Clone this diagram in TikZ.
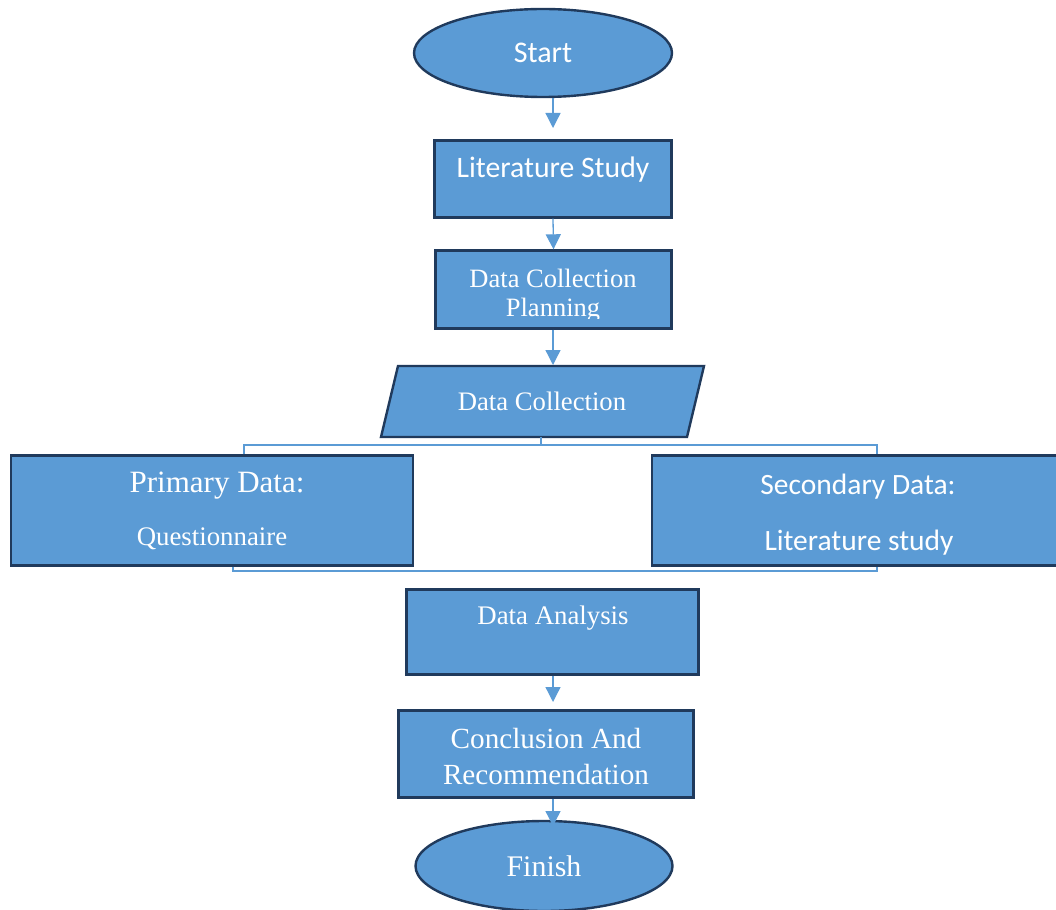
\documentclass[tikz,border=0pt]{standalone}
\usepackage{fontspec}
\setmainfont{Liberation Serif}
\newfontfamily\calfont{Carlito}
\usetikzlibrary{arrows.meta,shapes.geometric}
\definecolor{boxfill}{HTML}{5B9BD5}
\definecolor{boxedge}{HTML}{203A5C}
\definecolor{linkc}{HTML}{5B9BD5}
\tikzset{
  blk/.style={draw=boxedge,fill=boxfill,line width=2.4pt,inner sep=0pt},
  rbox/.style={blk,rectangle},
  ebox/.style={blk,ellipse},
  txt/.style={text=white,inner sep=0pt,align=center},
  arr/.style={draw=linkc,line width=1.3pt,-{Triangle[length=15pt,width=15pt]}},
  link/.style={draw=linkc,line width=1.2pt},
}
\begin{document}
\begin{tikzpicture}[x=1pt,y=-1pt]
\useasboundingbox (0,0) rectangle (1056,909);
\clip (0,0) rectangle (1056,909);
% start
\node[ebox,minimum width=258pt,minimum height=88pt] (start) at (543,53) {};
\node[txt,font=\calfont\fontsize{30}{34}\selectfont] (tstart) at (543,53) {Start};
% literature study
\node[rbox,minimum width=237pt,minimum height=77pt] (lit) at (553,179) {};
\node[txt,font=\calfont\fontsize{29.7}{34}\selectfont] (tlit) at (553,170) {Literature Study};
% planning
\node[rbox,minimum width=236pt,minimum height=78pt] (plan) at (553.5,289.5) {};
\coordinate (pc) at (0,318);
\begin{scope}
\clip (plan.north west) rectangle (plan.east |- pc);
\node[txt,font=\fontsize{26.5}{29}\selectfont] (tplan) at (553,296) {Data Collection\\Planning};
\end{scope}
% data collection parallelogram
\coordinate (p1) at (381,437);
\coordinate (p2) at (687,437);
\coordinate (p3) at (704,366);
\coordinate (p4) at (398,366);
\draw[blk] (p1) -- (p2) -- (p3) -- (p4) -- cycle;
\node[inner sep=0pt,minimum width=306pt,minimum height=71pt] (dc) at (542.5,401.5) {};
\node[txt,font=\fontsize{26.7}{30}\selectfont] (tdc) at (542,401) {Data Collection};
% primary / secondary
\node[rbox,minimum width=402pt,minimum height=110pt] (prim) at (212,510.5) {};
\node[txt,font=\fontsize{31}{34}\selectfont] (tprim1) at (217,486) {Primary Data:};
\node[txt,font=\fontsize{26.8}{30}\selectfont] (tprim2) at (212,539) {Questionnaire};
\node[rbox,minimum width=410pt,minimum height=110pt] (sec) at (857,510.5) {};
\node[txt,font=\calfont\fontsize{29.5}{34}\selectfont] (tsec1) at (858,487) {Secondary Data:};
\node[txt,font=\calfont\fontsize{29.5}{34}\selectfont] (tsec2) at (859,543) {Literature study};
% analysis
\node[rbox,minimum width=292pt,minimum height=85pt] (ana) at (552.5,632) {};
\node[txt,font=\fontsize{26.8}{30}\selectfont] (tana) at (553,618) {Data Analysis};
% conclusion
\node[rbox,minimum width=295pt,minimum height=87pt] (con) at (546,754) {};
\node[txt,font=\fontsize{29.2}{36}\selectfont] (tcon) at (546,757) {Conclusion And\\Recommendation};
% finish
\node[ebox,minimum width=257pt,minimum height=90pt] (fin) at (544,866) {};
\node[txt,font=\fontsize{29.9}{33}\selectfont] (tfin) at (544,866) {Finish};
% arrows
\coordinate (e1) at (553,128);
\coordinate (e3) at (553,365);
\coordinate (e4) at (553,702);
\coordinate (e5) at (553,826);
\draw[arr] (start.south -| e1) -- (e1);
\draw[arr] (lit.south) -- (plan.north);
\draw[arr] (plan.south -| e3) -- (e3);
\draw[arr] (ana.south -| e4) -- (e4);
\draw[arr] (con.south -| e5) -- (e5);
% split bracket
\coordinate (s0) at (541,437);
\coordinate (s1) at (541,445);
\coordinate (sl) at (244,445);
\coordinate (sr) at (877,445);
\draw[link] (s0) -- (s1);
\draw[link] (prim.north -| sl) -- (sl) -- (sr) -- (sec.north -| sr);
% join bracket
\coordinate (jl) at (233,571);
\coordinate (jr) at (877,571);
\draw[link] (prim.south -| jl) -- (jl) -- (jr) -- (sec.south -| jr);
\end{tikzpicture}
\end{document}
